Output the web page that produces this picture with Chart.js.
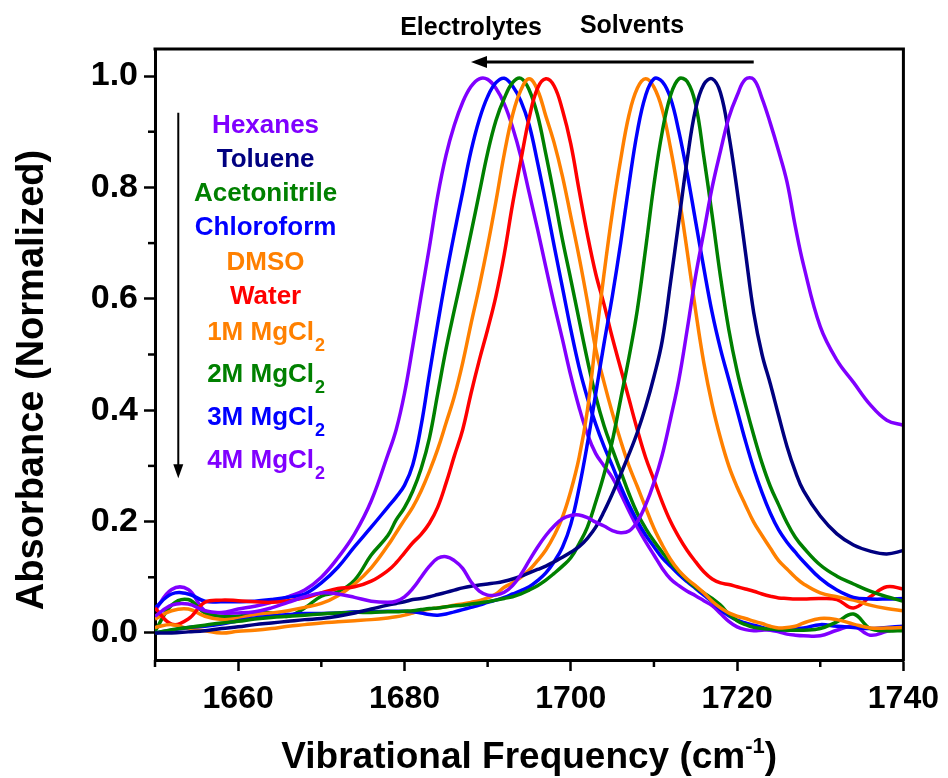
<!DOCTYPE html>
<html><head><meta charset="utf-8">
<script src="https://cdn.jsdelivr.net/npm/chart.js@4.4.1/dist/chart.umd.min.js"></script>
<style>html,body{margin:0;padding:0;background:#fff}#wrap{width:948px;height:778px}</style>
</head><body><div id="wrap"><canvas id="c" width="948" height="778"></canvas></div>
<script>
// ---------- DATA ----------
const freq = [1650,1652,1654,1656,1658,1660,1662,1664,1666,1668,1670,1672,1674,1676,1678,
 1679,1680,1681,1682,1683,1684,1685,1686,1687,1688,1689,1690,1691,1692,1693,1694,1695,1696,1697,1698,1699,1700,1701,1702,1703,
 1704,1705,1706,1707,1708,1709,1710,1711,1712,1713,1714,1715,1716,1717,1718,1719,1720,1721,1722,1723,1724,1725,1726,1727,1728,
 1730,1732,1734,1736,1738,1740];

const hexanes = [0.03,0.05,0.052,0.04,0.036,0.036,0.038,0.045,0.055,0.065,0.072,0.07,0.064,0.057,0.055,
 0.057,0.065,0.08,0.10,0.12,0.134,0.137,0.13,0.116,0.092,0.075,0.068,0.068,0.073,0.085,0.105,0.13,0.154,0.175,0.192,0.205,0.211,0.212,0.207,0.199,
 0.192,0.184,0.18,0.183,0.2,0.23,0.27,0.32,0.385,0.455,0.545,0.64,0.72,0.80,0.865,0.925,0.965,0.994,0.994,0.96,0.915,0.865,0.81,0.73,0.66,
 0.55,0.49,0.45,0.41,0.382,0.373];
const toluene = [0,0,0.002,0.004,0.008,0.011,0.015,0.018,0.021,0.024,0.026,0.03,0.036,0.043,0.05,
 0.053,0.056,0.06,0.062,0.065,0.069,0.073,0.077,0.081,0.084,0.086,0.088,0.09,0.093,0.097,0.102,0.108,0.114,0.12,0.128,0.136,0.145,0.155,0.17,0.19,
 0.218,0.25,0.285,0.321,0.36,0.406,0.46,0.525,0.63,0.74,0.85,0.94,0.985,0.995,0.97,0.895,0.795,0.684,0.575,0.50,0.447,0.39,0.335,0.29,0.255,
 0.21,0.178,0.158,0.147,0.142,0.148];
const acetonitrile = [0,0.006,0.01,0.014,0.018,0.021,0.025,0.028,0.03,0.032,0.034,0.036,0.037,0.037,0.038,
 0.038,0.039,0.04,0.042,0.044,0.045,0.047,0.049,0.05,0.052,0.054,0.056,0.059,0.062,0.065,0.07,0.077,0.085,0.095,0.107,0.12,0.135,0.16,0.19,0.235,
 0.285,0.345,0.42,0.495,0.58,0.69,0.805,0.90,0.965,0.995,0.99,0.95,0.855,0.75,0.64,0.545,0.47,0.41,0.355,0.305,0.263,0.23,0.198,0.172,0.153,
 0.122,0.102,0.088,0.075,0.065,0.057];
const chloroform = [0,0.005,0.01,0.012,0.016,0.022,0.027,0.03,0.033,0.035,0.035,0.036,0.038,0.038,0.039,
 0.039,0.039,0.038,0.036,0.033,0.032,0.034,0.038,0.042,0.046,0.05,0.055,0.059,0.064,0.07,0.076,0.083,0.094,0.108,0.128,0.154,0.195,0.26,0.34,0.43,
 0.52,0.605,0.70,0.805,0.90,0.965,0.995,0.99,0.96,0.90,0.825,0.74,0.655,0.575,0.51,0.455,0.40,0.345,0.295,0.252,0.215,0.185,0.163,0.145,0.128,
 0.098,0.077,0.064,0.061,0.061,0.062];
const dmso = [0.01,0.015,0.008,0.004,0,0.003,0.005,0.008,0.012,0.015,0.018,0.02,0.022,0.024,0.027,
 0.029,0.032,0.036,0.04,0.043,0.045,0.047,0.05,0.052,0.055,0.058,0.063,0.07,0.082,0.09,0.1,0.113,0.13,0.149,0.175,0.208,0.255,0.315,0.40,0.525,
 0.645,0.755,0.85,0.93,0.978,0.995,0.98,0.94,0.87,0.785,0.685,0.58,0.485,0.41,0.35,0.30,0.262,0.23,0.199,0.175,0.152,0.13,0.115,0.1,0.088,
 0.072,0.065,0.059,0.05,0.044,0.04];
const water = [0.045,0.016,0.025,0.055,0.059,0.058,0.056,0.055,0.058,0.063,0.072,0.08,0.083,0.093,0.112,
 0.126,0.144,0.162,0.177,0.197,0.226,0.269,0.318,0.365,0.43,0.49,0.545,0.605,0.68,0.77,0.849,0.925,0.978,0.995,0.982,0.939,0.878,0.795,0.715,0.645,
 0.59,0.53,0.475,0.42,0.365,0.315,0.275,0.235,0.20,0.172,0.148,0.128,0.11,0.097,0.09,0.087,0.083,0.079,0.075,0.07,0.066,0.063,0.062,0.061,0.061,
 0.062,0.06,0.045,0.065,0.083,0.079];
const mgcl1M = [0.025,0.04,0.043,0.03,0.024,0.026,0.033,0.036,0.04,0.046,0.053,0.067,0.088,0.117,0.157,
 0.18,0.203,0.226,0.255,0.29,0.33,0.377,0.425,0.485,0.555,0.622,0.695,0.775,0.86,0.93,0.975,0.995,0.975,0.928,0.88,0.82,0.748,0.675,0.595,0.51,
 0.45,0.395,0.345,0.30,0.263,0.225,0.188,0.158,0.132,0.112,0.097,0.085,0.072,0.057,0.045,0.036,0.03,0.026,0.021,0.017,0.012,0.009,0.01,0.012,0.018,
 0.026,0.024,0.016,0.009,0.009,0.01];
const mgcl2M = [0.003,0.05,0.06,0.036,0.03,0.03,0.037,0.036,0.03,0.045,0.066,0.074,0.095,0.14,0.175,
 0.203,0.225,0.255,0.295,0.35,0.43,0.51,0.58,0.648,0.718,0.79,0.862,0.92,0.96,0.988,0.996,0.975,0.93,0.86,0.785,0.706,0.635,0.562,0.49,0.425,
 0.372,0.33,0.29,0.25,0.215,0.188,0.165,0.145,0.126,0.11,0.095,0.082,0.072,0.062,0.05,0.034,0.022,0.015,0.01,0.008,0.007,0.006,0.005,0.005,0.005,
 0.008,0.02,0.034,0.008,0.004,0.004];
const mgcl3M = [0.045,0.07,0.07,0.057,0.056,0.056,0.057,0.06,0.064,0.07,0.09,0.118,0.155,0.19,0.226,
 0.244,0.265,0.302,0.372,0.465,0.555,0.64,0.718,0.792,0.865,0.922,0.963,0.988,0.996,0.982,0.955,0.912,0.845,0.772,0.695,0.62,0.545,0.477,0.422,0.375,
 0.335,0.30,0.263,0.23,0.201,0.176,0.155,0.135,0.12,0.105,0.092,0.08,0.068,0.056,0.042,0.031,0.023,0.018,0.014,0.01,0.007,0.005,0.006,0.008,0.009,
 0.015,0.012,0.01,0.008,0.01,0.012];
const mgcl4M = [0.04,0.078,0.078,0.04,0.037,0.043,0.048,0.055,0.065,0.077,0.10,0.135,0.178,0.237,0.32,
 0.365,0.43,0.515,0.605,0.693,0.785,0.858,0.912,0.953,0.981,0.995,0.994,0.978,0.95,0.908,0.855,0.79,0.725,0.657,0.59,0.527,0.462,0.405,0.357,0.322,
 0.30,0.279,0.25,0.219,0.19,0.164,0.14,0.116,0.097,0.085,0.075,0.067,0.058,0.049,0.035,0.021,0.011,0.006,0.004,0.005,0.005,0.002,-0.002,-0.004,-0.005,
 -0.005,0.005,0.012,-0.004,0.003,0.01];

const seriesNames = ['Hexanes','Toluene','Acetonitrile','Chloroform','DMSO','Water','1M MgCl\u2082','2M MgCl\u2082','3M MgCl\u2082','4M MgCl\u2082'];
const seriesValues = [hexanes,toluene,acetonitrile,chloroform,dmso,water,mgcl1M,mgcl2M,mgcl3M,mgcl4M];
const legendMain = ['Hexanes','Toluene','Acetonitrile','Chloroform','DMSO','Water','1M MgCl','2M MgCl','3M MgCl','4M MgCl'];
const legendSub  = ['','','','','','','2','2','2','2'];
const xTicks = [1650,1660,1670,1680,1690,1700,1710,1720,1730,1740];
const xLabeled = [1660,1680,1700,1720,1740];
const yTicks = [0,0.1,0.2,0.3,0.4,0.5,0.6,0.7,0.8,0.9,1.0];
const yLabeled = [0,0.2,0.4,0.6,0.8,1.0];
const xTitle = 'Vibrational Frequency (cm';
const xTitleSup = '-1';
const yTitle = 'Absorbance (Normalized)';
const topLeftText = 'Electrolytes';
const topRightText = 'Solvents';

// ---------- STYLE ----------
const colors = ['#8000FF','#000080','#008000','#0000FF','#FF8000','#FF0000','#FF8000','#008000','#0000FF','#8000FF'];
const legendY = [126,160,194,228,263,297,333,375,418,461];
const FAM = '"Liberation Sans", Arial, Helvetica, sans-serif';
const f = (s) => `bold ${s}px ${FAM}`;

const datasets = seriesValues.map((arr, k) => ({
  label: seriesNames[k],
  data: freq.map((x, i) => ({x, y: arr[i]})),
  borderColor: colors[k],
  backgroundColor: colors[k],
  borderWidth: 3.5,
  pointRadius: 0,
  fill: false,
  tension: 0.4
}));

const decor = {
  id: 'decor',
  afterDraw(chart) {
    const {ctx, chartArea: a, scales: {x, y}} = chart;
    ctx.save();
    ctx.strokeStyle = '#000'; ctx.fillStyle = '#000';
    // frame top & right
    ctx.lineWidth = 3;
    ctx.beginPath();
    ctx.moveTo(a.left - 1.5, a.top); ctx.lineTo(a.right, a.top); ctx.lineTo(a.right, a.bottom + 1.5);
    ctx.stroke();
    // minor ticks
    ctx.lineWidth = 2.5;
    xTicks.filter(v => !xLabeled.includes(v)).forEach(v => {
      const p = x.getPixelForValue(v);
      ctx.beginPath(); ctx.moveTo(p, a.bottom); ctx.lineTo(p, a.bottom + 7); ctx.stroke();
    });
    yTicks.filter(v => !yLabeled.includes(v)).forEach(v => {
      const p = y.getPixelForValue(v);
      ctx.beginPath(); ctx.moveTo(a.left, p); ctx.lineTo(a.left - 7, p); ctx.stroke();
    });
    // x title with superscript
    ctx.textBaseline = 'alphabetic'; ctx.textAlign = 'left';
    ctx.font = f(37); const w1 = ctx.measureText(xTitle).width; const w3 = ctx.measureText(')').width;
    ctx.font = f(22); const w2 = ctx.measureText(xTitleSup).width;
    let sx = (a.left + a.right) / 2 - (w1 + w2 + w3) / 2; const by = 768;
    ctx.font = f(37); ctx.fillText(xTitle, sx, by);
    ctx.font = f(22); ctx.fillText(xTitleSup, sx + w1, by - 15);
    ctx.font = f(37); ctx.fillText(')', sx + w1 + w2, by);
    // y title
    ctx.save(); ctx.translate(33, 380); ctx.rotate(-Math.PI / 2);
    ctx.textAlign = 'center'; ctx.textBaseline = 'middle'; ctx.font = f(38);
    ctx.fillText(yTitle, 0, 0); ctx.restore();
    // top annotation
    ctx.font = f(25); ctx.textAlign = 'center'; ctx.textBaseline = 'alphabetic';
    ctx.fillText(topLeftText, 471, 35);
    ctx.fillText(topRightText, 632, 33);
    const ay = y.getPixelForValue(1.025), ax1 = x.getPixelForValue(1722), ax0 = x.getPixelForValue(1688);
    ctx.lineWidth = 3;
    ctx.beginPath(); ctx.moveTo(ax1, ay); ctx.lineTo(ax0 + 12, ay); ctx.stroke();
    ctx.beginPath(); ctx.moveTo(ax0, ay); ctx.lineTo(ax0 + 16, ay - 6); ctx.lineTo(ax0 + 16, ay + 6); ctx.closePath(); ctx.fill();
    // legend arrow
    const lx = x.getPixelForValue(1652.8), ly0 = y.getPixelForValue(0.934), ly1 = y.getPixelForValue(0.278);
    ctx.lineWidth = 2;
    ctx.beginPath(); ctx.moveTo(lx, ly0); ctx.lineTo(lx, ly1 - 10); ctx.stroke();
    ctx.beginPath(); ctx.moveTo(lx, ly1); ctx.lineTo(lx - 5, ly1 - 14); ctx.lineTo(lx + 5, ly1 - 14); ctx.closePath(); ctx.fill();
    // legend labels
    const cx = x.getPixelForValue(1663.3);
    legendMain.forEach((t, i) => {
      const yy = legendY[i];
      ctx.fillStyle = colors[i];
      ctx.font = f(26); const mw = ctx.measureText(t).width;
      ctx.font = f(18); const sw = legendSub[i] ? ctx.measureText(legendSub[i]).width : 0;
      const st = cx - (mw + sw) / 2;
      ctx.textAlign = 'left'; ctx.textBaseline = 'middle';
      ctx.font = f(26); ctx.fillText(t, st, yy);
      if (legendSub[i]) { ctx.font = f(18); ctx.fillText(legendSub[i], st + mw + 1, yy + 13); }
    });
    ctx.restore();
  }
};

new Chart(document.getElementById('c'), {
  type: 'line',
  data: {datasets},
  plugins: [decor],
  options: {
    responsive: false, animation: false, devicePixelRatio: 1,
    layout: {padding: {top: 49, right: 43, left: 0, bottom: 0}},
    plugins: {legend: {display: false}, tooltip: {enabled: false}},
    scales: {
      x: {
        type: 'linear', min: 1650, max: 1740,
        afterBuildTicks: s => { s.ticks = xTicks.map(v => ({value: v})); },
        afterFit: s => { s.height = 118; },
        ticks: {autoSkip: false, maxRotation: 0, padding: 9, color: '#000',
          font: {family: FAM, size: 32, weight: 'bold'},
          callback: v => xLabeled.includes(v) ? String(v) : ''},
        grid: {display: true, drawOnChartArea: false, drawTicks: true, tickLength: 11, tickWidth: 2.5,
          tickColor: c => (c.tick && xLabeled.includes(c.tick.value)) ? '#000' : 'rgba(0,0,0,0)'},
        border: {display: true, color: '#000', width: 3}
      },
      y: {
        type: 'linear', min: -0.0485, max: 1.0485,
        afterBuildTicks: s => { s.ticks = yTicks.map(v => ({value: v})); },
        afterFit: s => { s.width = 155; },
        ticks: {autoSkip: false, padding: 6, color: '#000',
          font: {family: FAM, size: 34, weight: 'bold'},
          callback: v => yLabeled.includes(v) ? v.toFixed(1) : ''},
        grid: {display: true, drawOnChartArea: false, drawTicks: true, tickLength: 11, tickWidth: 2.5,
          tickColor: c => (c.tick && yLabeled.includes(c.tick.value)) ? '#000' : 'rgba(0,0,0,0)'},
        border: {display: true, color: '#000', width: 3}
      }
    }
  }
});
</script></body></html>
